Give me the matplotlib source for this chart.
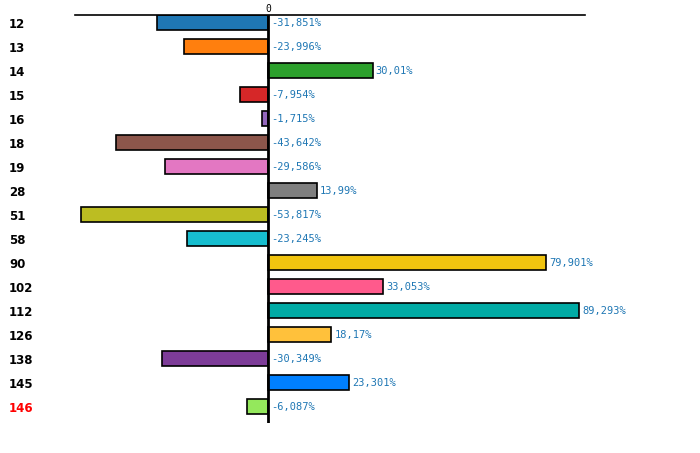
import matplotlib
matplotlib.use("Agg")
import matplotlib.pyplot as plt

# datos
categorias = ["12", "13", "14", "15", "16", "18", "19", "28", "51", "58",
              "90", "102", "112", "126", "138", "145", "146"]
valores = [-31.851, -23.996, 30.01, -7.954, -1.715, -43.642, -29.586, 13.99,
           -53.817, -23.245, 79.901, 33.053, 89.293, 18.17, -30.349, 23.301, -6.087]
etiquetas = ["-31,851%", "-23,996%", "30,01%", "-7,954%", "-1,715%", "-43,642%",
             "-29,586%", "13,99%", "-53,817%", "-23,245%", "79,901%", "33,053%",
             "89,293%", "18,17%", "-30,349%", "23,301%", "-6,087%"]
colores = ["#1f77b4", "#ff7f0e", "#2ca02c", "#d62728", "#9467bd", "#8c564b",
           "#e377c2", "#7f7f7f", "#bcbd22", "#17becf", "#f1c40f", "#ff5a8c",
           "#00aba5", "#ffc13b", "#7d3c98", "#0080ff", "#94e85c"]

fig = plt.figure(figsize=(7, 4.53), dpi=100)
ax = fig.add_axes([75 / 700, 1 - 423 / 453, 510 / 700, 408 / 453])

y = list(range(len(categorias)))
ax.barh(y, valores, height=0.625, color=colores, edgecolor="black", linewidth=1.2, zorder=2)
ax.axvline(0, color="black", linewidth=2, zorder=3)

# texto con el valor de cada barra
for i, (v, t) in enumerate(zip(valores, etiquetas)):
    x = max(v, 0) + 0.9
    ax.text(x, i, t, va="center", ha="left", fontsize=7.5, color="#1f77b4",
            family="DejaVu Sans Mono")

ax.set_xlim(-55.4, 91.0)
ax.set_ylim(16.667, -0.333)

ax.set_yticks(y)
ax.set_yticklabels(categorias, fontsize=8.5, fontweight="bold", ha="left")
ax.tick_params(axis="y", length=0, pad=47.5)
ax.get_yticklabels()[-1].set_color("red")

ax.xaxis.tick_top()
ax.set_xticks([0])
ax.set_xticklabels(["0"], fontsize=7, family="DejaVu Sans Mono")
ax.tick_params(axis="x", length=0, pad=1)

for s in ["left", "right", "bottom"]:
    ax.spines[s].set_visible(False)
ax.spines["top"].set_linewidth(1.2)

fig.savefig("out.png", dpi=100)
